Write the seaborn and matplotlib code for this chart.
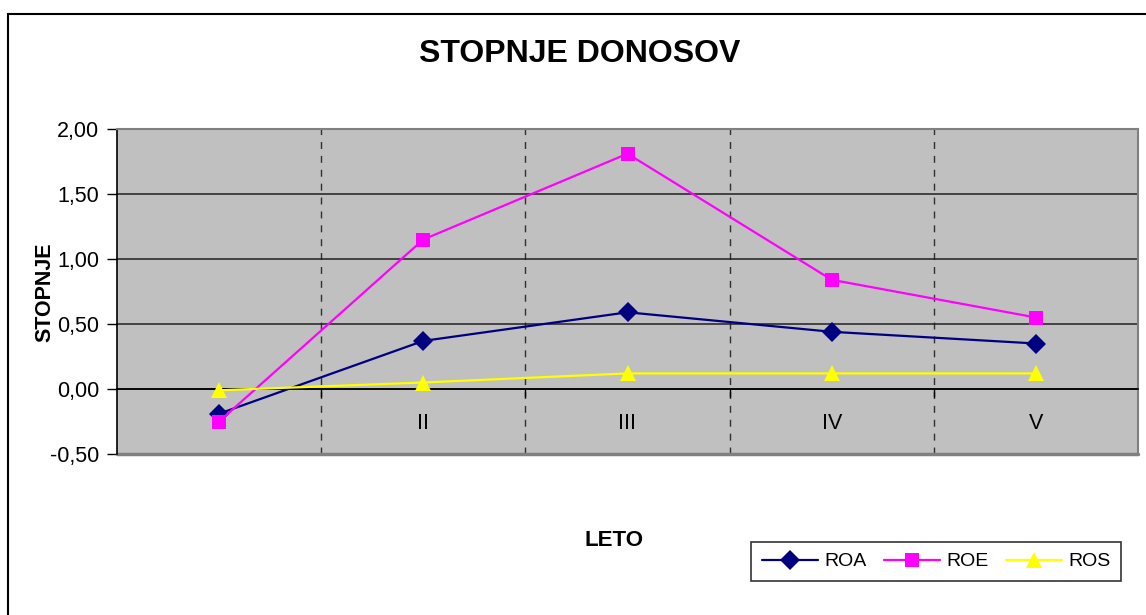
import matplotlib
matplotlib.use("Agg")
import matplotlib.pyplot as plt
from matplotlib.patches import Rectangle
import seaborn as sns
import pandas as pd

# ---- data ----
categories = ["I", "II", "III", "IV", "V"]
roa = [-0.19, 0.37, 0.59, 0.44, 0.35]
roe = [-0.25, 1.15, 1.81, 0.84, 0.55]
ros = [-0.01, 0.05, 0.12, 0.12, 0.12]
series_names = ["ROA", "ROE", "ROS"]
y_ticks = [-0.5, 0.0, 0.5, 1.0, 1.5, 2.0]
title = "STOPNJE DONOSOV"
x_label = "LETO"
y_label = "STOPNJE"

sns.set_theme(style="white")
plt.rcParams["font.family"] = ["Liberation Sans", "DejaVu Sans"]
plt.rcParams["text.color"] = "black"
plt.rcParams["xtick.color"] = "black"
plt.rcParams["ytick.color"] = "black"
plt.rcParams["xtick.labelcolor"] = "black"
plt.rcParams["ytick.labelcolor"] = "black"

rows = []
for name, vals in zip(series_names, [roa, roe, ros]):
    for i, v in enumerate(vals):
        rows.append({"pos": i, "value": v, "series": name})
df = pd.DataFrame(rows)

fig = plt.figure(figsize=(11.46, 6.15), dpi=100)
W, H = 1146, 615
ax = fig.add_axes([117 / W, 1 - 454 / H, (1138 - 117) / W, (454 - 129) / H])
ax.set_facecolor("#C0C0C0")

# outer chart border
fig.patches.append(Rectangle((8 / W, -0.02), 1.1, 1 - 14 / H + 0.02,
                             transform=fig.transFigure, fill=False,
                             edgecolor="black", linewidth=1.5, zorder=0))

palette = {"ROA": "#000080", "ROE": "#FF00FF", "ROS": "#FFFF00"}
markers = {"ROA": "D", "ROE": "s", "ROS": "^"}
sns.lineplot(data=df, x="pos", y="value", hue="series", style="series",
             palette=palette, markers=markers, dashes=False, ax=ax,
             markersize=10, markeredgewidth=0, linewidth=1.6, zorder=3)
for ln in ax.lines:
    if ln.get_marker() == "^":
        ln.set_markersize(12)

ax.set_xlim(-0.5, 4.5)
ax.set_ylim(-0.5, 2.0)

# y axis
ax.set_yticks(y_ticks)
ax.set_yticklabels([f"{v:.2f}".replace(".", ",") for v in y_ticks], fontsize=15.5)
ax.tick_params(axis="y", direction="out", length=7, width=1, color="black",
               pad=6, left=True)
ax.yaxis.grid(True, color="#202020", linewidth=1.1)

# x axis crossing at zero; boundary ticks as major, labels as minor
ax.spines["bottom"].set_position(("data", 0))
ax.set_xticks([0.5, 1.5, 2.5, 3.5])
ax.set_xticklabels([])
ax.set_xticks(range(len(categories)), minor=True)
ax.set_xticklabels(categories, minor=True, fontsize=15.5)
ax.tick_params(axis="x", which="major", direction="out", length=6, width=1,
               color="black", bottom=True)
ax.tick_params(axis="x", which="minor", length=0, pad=17, bottom=True)
ax.xaxis.grid(True, which="major", color="#303030", linewidth=1.0,
              linestyle=(0, (5, 5)))
ax.set_axisbelow(True)

for s in ["top", "right"]:
    ax.spines[s].set_color("#808080")
    ax.spines[s].set_linewidth(1.5)
ax.spines["left"].set_color("black")
ax.spines["left"].set_linewidth(1.2)
ax.spines["bottom"].set_color("black")
ax.spines["bottom"].set_linewidth(1.2)
ax.axhline(-0.5, color="#808080", linewidth=2.5, zorder=1, clip_on=False)

ax.set_xlabel("")
ax.set_ylabel("")
fig.text(45 / W, 1 - 292 / H, y_label, rotation=90, fontsize=15.5,
         fontweight="bold", ha="center", va="center")
fig.text(614 / W, 1 - 541 / H, x_label, fontsize=16, fontweight="bold",
         ha="center", va="center")
fig.text(580 / W, 1 - 54 / H, title, fontsize=23, fontweight="bold",
         ha="center", va="center")

handles, labels = ax.get_legend_handles_labels()
ax.get_legend().remove()
leg = fig.legend(handles, labels, loc="center", ncol=3,
                 bbox_to_anchor=(936 / W, 1 - 561.5 / H), fontsize=14,
                 frameon=True, fancybox=False, edgecolor="black",
                 handlelength=2.9, columnspacing=0.9, handletextpad=0.3,
                 borderpad=0.55)
leg.get_frame().set_linewidth(1.2)

fig.savefig("out.png", dpi=100)
